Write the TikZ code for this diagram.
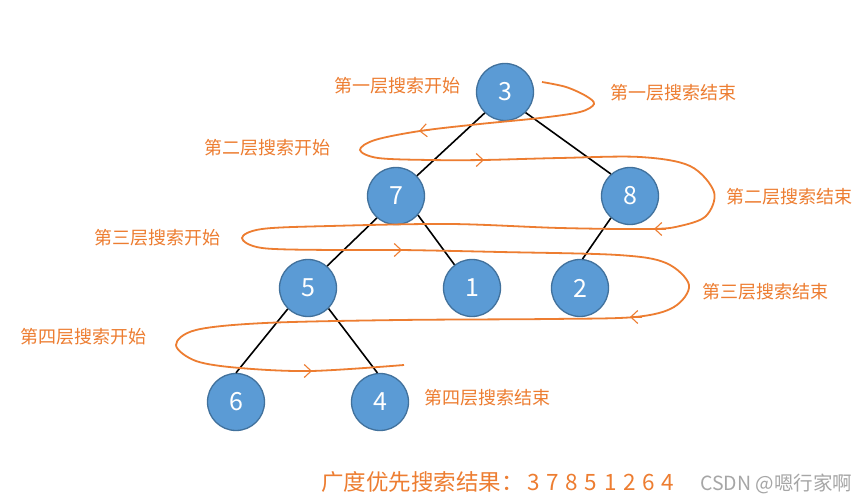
\documentclass[tikz,border=0pt]{standalone}
\usepackage{fontspec}
\setmainfont{Noto Sans CJK SC}
\usetikzlibrary{arrows.meta}
\definecolor{nodefill}{HTML}{5B9BD5}
\definecolor{nodeline}{HTML}{41719C}
\definecolor{orng}{HTML}{ED7D31}
\definecolor{wm}{HTML}{A6A6A6}
\newcommand{\dg}{\hspace{6.6pt}}
\tikzset{
  tnode/.style={circle, minimum size=57pt, inner sep=0pt, fill=nodefill, draw=nodeline, line width=1.3pt, text=white, font=\fontsize{25}{25}\selectfont},
  edge/.style={draw=black, line width=1.6pt},
  lbl/.style={text=orng, font=\fontsize{18}{18}\selectfont, inner sep=0pt},
  snake/.style={draw=orng, line width=1.8pt},
  chev/.style={draw=orng, line width=1.1pt, -{Straight Barb[length=7pt,width=13pt]}}
}
\begin{document}
\begin{tikzpicture}[x=1pt,y=-1pt]
\useasboundingbox[fill=white] (0,0) rectangle (868,502);
% tree nodes
\node[tnode] (n3) at (505,92) {3};
\node[tnode] (n7) at (396,196) {7};
\node[tnode] (n8) at (630,196) {8};
\node[tnode] (n5) at (308,288) {5};
\node[tnode] (n1) at (472,288) {1};
\node[tnode] (n2) at (580,288) {2};
\node[tnode] (n6) at (236,402) {6};
\node[tnode] (n4) at (380,402) {4};
% edges
\draw[edge] (n3.-134) -- (n7.44);
\draw[edge] (n3.-45) -- (n8.131);
\draw[edge] (n7.-131) -- (n5.49);
\draw[edge] (n7.-41) -- (n1.127);
\draw[edge] (n8.-131) -- (n2.85);
\draw[edge] (n5.-134) -- (n6.90);
\draw[edge] (n5.-45) -- (n4.95);
% snake path
\draw[snake] plot[smooth, tension=0.55] coordinates {
 (542,82) (566,87) (586,96) (594,104) (580,112) (540,118)
 (480,124) (420,131) (375,140) (360,150) (378,158) (430,160) (483,160)
 (560,158) (640,157) (690,166) (714,192) (706,216) (680,226) (650,229)
 (560,228) (450,224) (330,226) (262,229) (242,238) (262,248) (330,250) (400,250)
 (500,252) (618,255) (666,263) (689,285) (674,307) (635,317)
 (550,319) (400,320) (265,323) (196,330) (176,345) (196,361) (240,368) (311,371) (404,365)
};
% direction chevrons
\draw[chev] (430,130) -- (419,131);
\draw[chev] (473,160) -- (484,160);
\draw[chev] (666,229) -- (654,229);
\draw[chev] (390,250) -- (402,250);
\draw[chev] (642,317) -- (630,317);
\draw[chev] (300,371) -- (312,371);
% labels
\node[lbl] (l1s) at (397,86) {第一层搜索开始};
\node[lbl] (l1e) at (673,93) {第一层搜索结束};
\node[lbl] (l2s) at (267,148) {第二层搜索开始};
\node[lbl] (l2e) at (789,197) {第二层搜索结束};
\node[lbl] (l3s) at (157,238) {第三层搜索开始};
\node[lbl] (l3e) at (765,292) {第三层搜索结束};
\node[lbl] (l4s) at (83,337) {第四层搜索开始};
\node[lbl] (l4e) at (487,398) {第四层搜索结束};
% result
\node[anchor=west, inner sep=0pt, text=orng, font=\fontsize{22.5}{22}\selectfont] (res) at (321,482) {广度优先搜索结果：\hspace{4pt}3\dg 7\dg 8\dg 5\dg 1\dg 2\dg 6\dg 4};
\node[anchor=west, inner sep=0pt, text=wm, font=\fontsize{19.5}{19}\selectfont] (wmk) at (700,484) {CSDN @嗯行家啊};
\end{tikzpicture}
\end{document}
